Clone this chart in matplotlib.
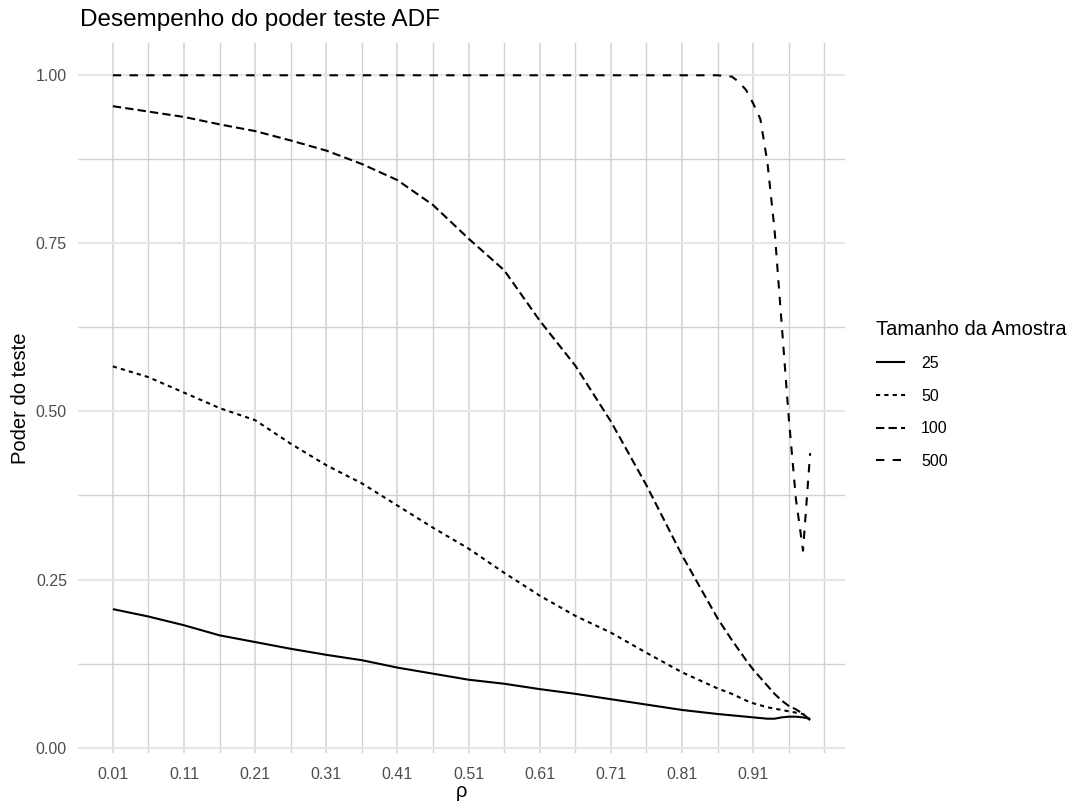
import matplotlib
matplotlib.use("Agg")
import matplotlib.pyplot as plt
from matplotlib.ticker import FixedLocator, FixedFormatter

plt.rcParams['font.family'] = ['Liberation Sans', 'DejaVu Sans']

rho = [0.01, 0.06, 0.11, 0.16, 0.21, 0.26, 0.31, 0.36, 0.41, 0.46, 0.51, 0.56,
       0.61, 0.66, 0.71, 0.76, 0.81, 0.86, 0.88, 0.89, 0.90, 0.91, 0.92, 0.93,
       0.94, 0.95, 0.96, 0.97, 0.98, 0.99]

power_25 = [0.206, 0.195, 0.182, 0.167, 0.157, 0.147, 0.138, 0.130, 0.119, 0.110,
            0.101, 0.095, 0.087, 0.080, 0.072, 0.064, 0.056, 0.050, 0.048, 0.047,
            0.046, 0.045, 0.044, 0.043, 0.043, 0.045, 0.046, 0.046, 0.045, 0.043]
power_50 = [0.567, 0.551, 0.528, 0.505, 0.487, 0.452, 0.420, 0.393, 0.360, 0.327,
            0.296, 0.260, 0.226, 0.196, 0.171, 0.141, 0.112, 0.088, 0.080, 0.075,
            0.070, 0.066, 0.063, 0.060, 0.058, 0.056, 0.054, 0.052, 0.050, 0.041]
power_100 = [0.954, 0.946, 0.938, 0.927, 0.917, 0.903, 0.888, 0.868, 0.844, 0.807,
             0.757, 0.710, 0.635, 0.568, 0.485, 0.390, 0.286, 0.192, 0.160, 0.145,
             0.130, 0.116, 0.104, 0.092, 0.080, 0.070, 0.062, 0.057, 0.050, 0.041]
power_500 = [1.0, 1.0, 1.0, 1.0, 1.0, 1.0, 1.0, 1.0, 1.0, 1.0,
             1.0, 1.0, 1.0, 1.0, 1.0, 1.0, 1.0, 1.0, 0.998, 0.990,
             0.978, 0.958, 0.935, 0.870, 0.770, 0.630, 0.490, 0.370, 0.293, 0.438]

sample_sizes = ["25", "50", "100", "500"]
series = [power_25, power_50, power_100, power_500]
dash_styles = [None, (2, 2), (4, 2), (4, 4)]

x_major = [0.01, 0.11, 0.21, 0.31, 0.41, 0.51, 0.61, 0.71, 0.81, 0.91]
x_labels = ["0.01", "0.11", "0.21", "0.31", "0.41", "0.51", "0.61", "0.71", "0.81", "0.91"]
x_minor = [0.06, 0.16, 0.26, 0.36, 0.46, 0.56, 0.66, 0.76, 0.86, 0.96, 1.01]
y_major = [0.0, 0.25, 0.5, 0.75, 1.0]
y_labels = ["0.00", "0.25", "0.50", "0.75", "1.00"]
y_minor = [0.125, 0.375, 0.625, 0.875]

fig = plt.figure(figsize=(10.8, 8.05), dpi=100)
ax = fig.add_axes([78/1080, 1 - 753/805, (845 - 78)/1080, (753 - 43)/805])

for lab, ys, ds in zip(sample_sizes, series, dash_styles):
    if ds is None:
        ax.plot(rho, ys, color="black", lw=1.5, label=lab, solid_capstyle="butt")
    else:
        ax.plot(rho, ys, color="black", lw=1.5, label=lab, dashes=ds, dash_capstyle="butt")

ax.set_xlim(-0.039, 1.039)
ax.set_ylim(-0.008, 1.048)

ax.xaxis.set_major_locator(FixedLocator(x_major))
ax.xaxis.set_major_formatter(FixedFormatter(x_labels))
ax.xaxis.set_minor_locator(FixedLocator(x_minor))
ax.yaxis.set_major_locator(FixedLocator(y_major))
ax.yaxis.set_major_formatter(FixedFormatter(y_labels))
ax.yaxis.set_minor_locator(FixedLocator(y_minor))

ax.set_axisbelow(True)
ax.grid(which="major", axis="x", color="#D2D2D2", lw=1.1)
ax.grid(which="minor", axis="x", color="#D2D2D2", lw=1.0)
ax.grid(which="major", axis="y", color="#E6E6E6", lw=1.5)
ax.grid(which="minor", axis="y", color="#D2D2D2", lw=1.0)

for s in ax.spines.values():
    s.set_visible(False)
ax.tick_params(which="both", length=0)
ax.tick_params(axis="x", labelsize=11.5, labelcolor="#4D4D4D", pad=10)
ax.tick_params(axis="y", labelsize=11.5, labelcolor="#4D4D4D", pad=8)

ax.set_xlabel("ρ", fontsize=14.5, labelpad=0)
ax.set_ylabel("Poder do teste", fontsize=14.5, labelpad=4)

fig.text(80/1080, 1 - 20/805, "Desempenho do poder teste ADF", fontsize=17.5,
         ha="left", va="center")

handles, labels = ax.get_legend_handles_labels()
leg = fig.legend(handles, labels, title="Tamanho da Amostra", loc="upper left",
                 bbox_to_anchor=(862/1080, 1 - 306/805), frameon=False,
                 fontsize=11.5, title_fontsize=14.5, handlelength=1.8,
                 labelspacing=1.1, handletextpad=1.0, alignment="left")
leg._legend_box.sep = 12

fig.savefig("out.png", dpi=100)
